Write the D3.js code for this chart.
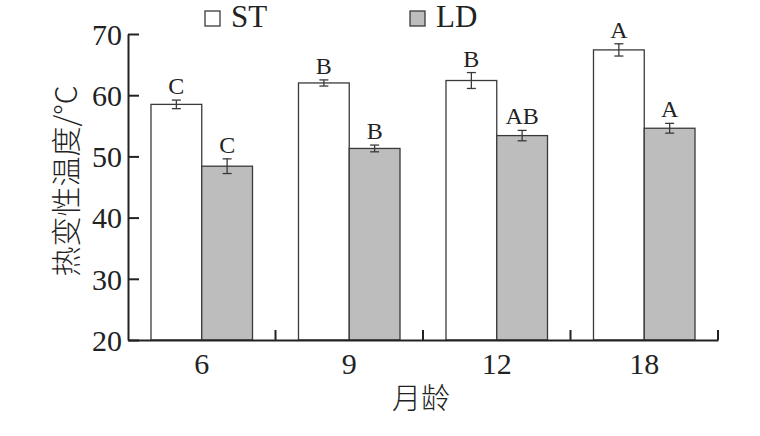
<!DOCTYPE html>
<html><head><meta charset="utf-8">
<script src="https://cdn.jsdelivr.net/npm/d3@7"></script>
<style>body{margin:0;background:#fff}svg{display:block}</style>
</head><body>
<svg id="c" width="760" height="436"></svg>
<script>
const categories = ["6", "9", "12", "18"];
const seriesNames = ["ST", "LD"];
const stValues = [58.5, 62.0, 62.4, 67.4];
const ldValues = [48.4, 51.3, 53.4, 54.6];
const stErrors = [0.7, 0.5, 1.3, 1.0];
const ldErrors = [1.2, 0.55, 0.85, 0.8];
const stLetters = ["C", "B", "B", "A"];
const ldLetters = ["C", "B", "AB", "A"];
const yTicks = [20, 30, 40, 50, 60, 70];
const yTitle = "热变性温度/°C";
const xTitle = "月龄";

const serif = "'Liberation Serif','Times New Roman',serif";
const cjk = "'Noto Sans CJK SC','Noto Sans CJK JP',sans-serif";
const fills = {ST: "#ffffff", LD: "#bdbdbd"};
const stroke = "#3a3a3a";

const svg = d3.select("#c");
const m = {left: 128};
const x = d3.scaleBand().domain(categories).range([m.left, 718]).paddingInner(0).paddingOuter(0);
const xs = d3.scaleBand().domain(seriesNames).range([0, x.bandwidth()]).paddingOuter(0.453).paddingInner(0);
const y = d3.scaleLinear().domain([20, 70]).range([340, 34]);

const data = categories.map((c, i) => ({
  cat: c,
  vals: [
    {s: "ST", v: stValues[i], e: stErrors[i], l: stLetters[i]},
    {s: "LD", v: ldValues[i], e: ldErrors[i], l: ldLetters[i]}
  ]
}));

const g = svg.append("g");
const grp = g.selectAll("g.grp").data(data).join("g").attr("transform", d => `translate(${x(d.cat)},0)`);
grp.selectAll("rect").data(d => d.vals).join("rect")
  .attr("x", d => xs(d.s)).attr("width", xs.bandwidth())
  .attr("y", d => y(d.v)).attr("height", d => y(20) - y(d.v))
  .attr("fill", d => fills[d.s]).attr("stroke", stroke).attr("stroke-width", 1.3);

// error bars
const eb = grp.selectAll("g.eb").data(d => d.vals).join("g").attr("class", "eb")
  .attr("transform", d => `translate(${xs(d.s) + xs.bandwidth() / 2},0)`);
eb.append("line").attr("y1", d => y(d.v + d.e)).attr("y2", d => y(d.v - d.e)).attr("stroke", stroke).attr("stroke-width", 1.3);
eb.append("line").attr("x1", -4.5).attr("x2", 4.5).attr("y1", d => y(d.v + d.e)).attr("y2", d => y(d.v + d.e)).attr("stroke", stroke).attr("stroke-width", 1.3);
eb.append("line").attr("x1", -4.5).attr("x2", 4.5).attr("y1", d => y(d.v - d.e)).attr("y2", d => y(d.v - d.e)).attr("stroke", stroke).attr("stroke-width", 1.3);
eb.append("text").attr("y", d => y(d.v + d.e) - 6).attr("text-anchor", "middle")
  .attr("font-family", serif).attr("font-size", 24).attr("fill", "#222").text(d => d.l);

// y axis
const ya = svg.append("g").attr("transform", `translate(${m.left},0)`)
  .call(d3.axisLeft(y).tickValues(yTicks).tickSizeInner(-11).tickSizeOuter(0).tickPadding(6));
ya.select(".domain").attr("stroke", "#222").attr("stroke-width", 2);
ya.selectAll(".tick line").attr("stroke", "#222").attr("stroke-width", 2);
ya.selectAll(".tick text").attr("font-family", serif).attr("font-size", 30).attr("fill", "#222").attr("dy", "0.34em");

// x axis
const xa = svg.append("g").attr("transform", `translate(0,${y(20)})`)
  .call(d3.axisBottom(x).tickSize(0).tickPadding(13));
xa.select(".domain").attr("stroke", "#222").attr("stroke-width", 2);
xa.selectAll(".tick text").attr("font-family", serif).attr("font-size", 30).attr("fill", "#222").attr("dy", "0.71em");
xa.selectAll("line.sep").data(categories).join("line").attr("class", "sep")
  .attr("x1", d => x(d) + x.bandwidth()).attr("x2", d => x(d) + x.bandwidth())
  .attr("y1", 0).attr("y2", -10).attr("stroke", "#222").attr("stroke-width", 2);

// titles
svg.append("text").attr("transform", `translate(77,181) rotate(-90)`)
  .attr("text-anchor", "middle").attr("font-family", cjk).attr("font-size", 30).attr("font-weight", 300).attr("fill", "#222").text(yTitle);
svg.append("text").attr("x", 421).attr("y", 409).attr("text-anchor", "middle")
  .attr("font-family", cjk).attr("font-size", 29).attr("font-weight", 300).attr("fill", "#222").text(xTitle);

// legend
const legX = [205, 410];
const leg = svg.selectAll("g.leg").data(seriesNames).join("g").attr("class", "leg")
  .attr("transform", (d, i) => `translate(${legX[i]},11)`);
leg.append("rect").attr("width", 15).attr("height", 15).attr("fill", d => fills[d]).attr("stroke", stroke).attr("stroke-width", 1.3);
leg.append("text").attr("x", 26).attr("y", 16).attr("font-family", serif).attr("font-size", 31).attr("fill", "#222").text(d => d);
</script>
</body></html>
